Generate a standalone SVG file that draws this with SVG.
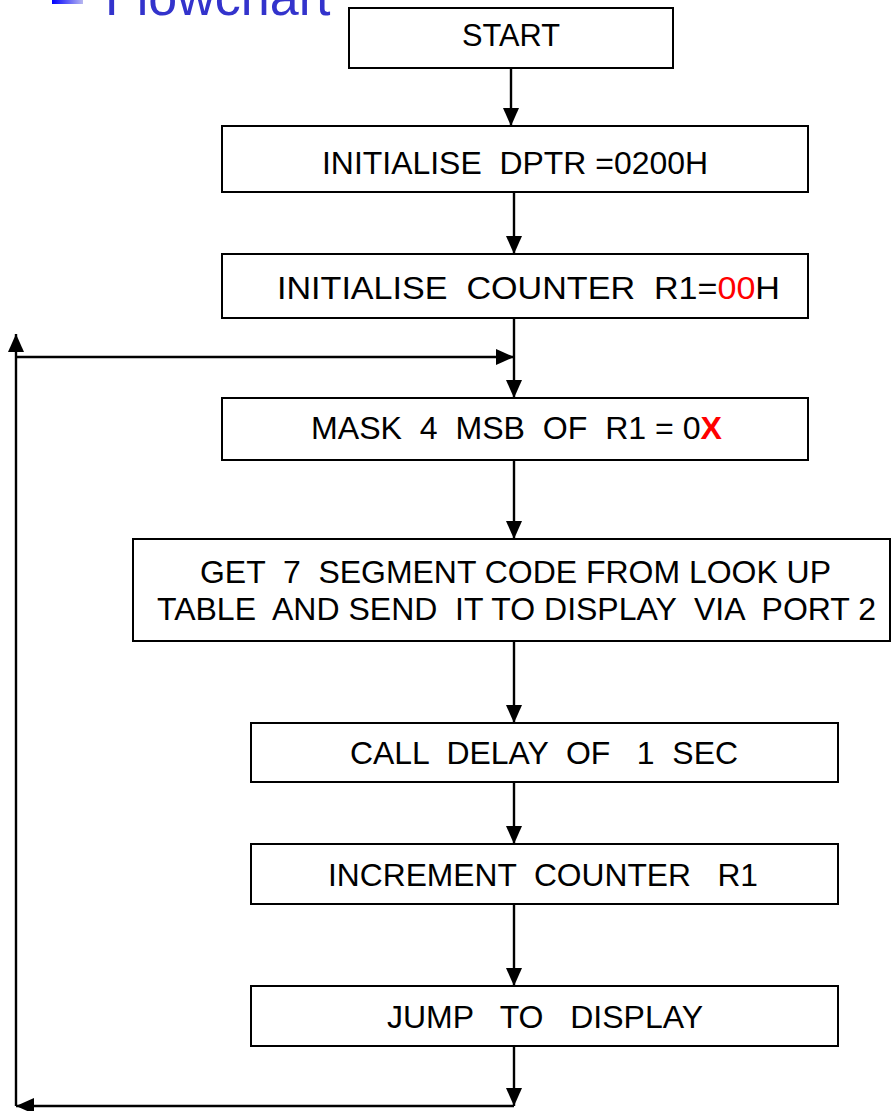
<svg xmlns="http://www.w3.org/2000/svg" width="893" height="1111" viewBox="0 0 893 1111">
<defs>
<linearGradient id="bul" x1="0" y1="0" x2="1" y2="0">
<stop offset="0" stop-color="#0000ff"/>
<stop offset="1" stop-color="#b8b8f0"/>
</linearGradient>
<marker id="ah" viewBox="0 0 18 16" refX="18" refY="8" markerWidth="18" markerHeight="16" markerUnits="userSpaceOnUse" orient="auto">
<path d="M0,0 L18,8 L0,16 Z" fill="#000"/>
</marker>
</defs>
<style>
.box{fill:#fff;stroke:#000;stroke-width:2}
.t{font-family:"Liberation Sans",Arial,sans-serif;font-size:32px;fill:#000}
.c{fill:none;stroke:#000;stroke-width:2.4}
.red{fill:#ff0000}
</style>
<rect width="893" height="1111" fill="#fff"/>
<g id="title">
<rect x="52" y="-20" width="31" height="24" fill="url(#bul)"/>
<text x="105" y="15" font-family="Liberation Sans, Arial, sans-serif" font-size="52" fill="#3333cc">Flowchart</text>
</g>
<g id="connectors">
<line class="c" x1="511" y1="68" x2="511" y2="126" marker-end="url(#ah)"/>
<line class="c" x1="514" y1="192" x2="514" y2="254" marker-end="url(#ah)"/>
<line class="c" x1="514" y1="318" x2="514" y2="398" marker-end="url(#ah)"/>
<line class="c" x1="16" y1="357" x2="514" y2="357" marker-end="url(#ah)"/>
<line class="c" x1="514" y1="460" x2="514" y2="539" marker-end="url(#ah)"/>
<line class="c" x1="514" y1="641" x2="514" y2="723" marker-end="url(#ah)"/>
<line class="c" x1="514" y1="782" x2="514" y2="844" marker-end="url(#ah)"/>
<line class="c" x1="514" y1="904" x2="514" y2="986" marker-end="url(#ah)"/>
<line class="c" x1="514" y1="1046" x2="514" y2="1106" marker-end="url(#ah)"/>
<line class="c" x1="514" y1="1106" x2="16" y2="1106" marker-end="url(#ah)"/>
<line class="c" x1="16" y1="1106" x2="16" y2="334" marker-end="url(#ah)"/>
</g>
<g id="start">
<rect class="box" x="349" y="8" width="324" height="60"/>
<text class="t" x="462" y="46" font-size="29" textLength="98" lengthAdjust="spacingAndGlyphs">START</text>
</g>
<g id="init-dptr">
<rect class="box" x="222" y="126" width="586" height="66"/>
<text class="t" x="322" y="174" xml:space="preserve" textLength="386" lengthAdjust="spacingAndGlyphs">INITIALISE  DPTR =0200H</text>
</g>
<g id="init-counter">
<rect class="box" x="222" y="254" width="586" height="64"/>
<text class="t" x="277" y="299" xml:space="preserve" textLength="503" lengthAdjust="spacingAndGlyphs">INITIALISE  COUNTER  R1=<tspan class="red">00</tspan>H</text>
</g>
<g id="mask">
<rect class="box" x="222" y="398" width="586" height="62"/>
<text class="t" x="311" y="439" xml:space="preserve" textLength="411" lengthAdjust="spacingAndGlyphs">MASK  4  MSB  OF  R1 = 0<tspan class="red" font-weight="bold">X</tspan></text>
</g>
<g id="get-code">
<rect class="box" x="133" y="539" width="757" height="102"/>
<text class="t" x="200" y="583" xml:space="preserve" textLength="631" lengthAdjust="spacingAndGlyphs">GET  7  SEGMENT CODE FROM LOOK UP</text>
<text class="t" x="157" y="620" xml:space="preserve" textLength="719" lengthAdjust="spacingAndGlyphs">TABLE  AND SEND  IT TO DISPLAY  VIA  PORT 2</text>
</g>
<g id="delay">
<rect class="box" x="251" y="723" width="587" height="59"/>
<text class="t" x="350" y="764" xml:space="preserve" textLength="388" lengthAdjust="spacingAndGlyphs">CALL  DELAY  OF   1  SEC</text>
</g>
<g id="increment">
<rect class="box" x="251" y="844" width="587" height="60"/>
<text class="t" x="328" y="886" xml:space="preserve" textLength="430" lengthAdjust="spacingAndGlyphs">INCREMENT  COUNTER   R1</text>
</g>
<g id="jump">
<rect class="box" x="251" y="986" width="587" height="60"/>
<text class="t" x="387" y="1028" xml:space="preserve" textLength="316" lengthAdjust="spacingAndGlyphs">JUMP   TO   DISPLAY</text>
</g>
</svg>
